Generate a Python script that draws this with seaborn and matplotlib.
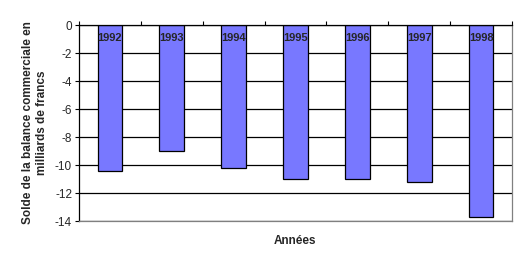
import matplotlib
matplotlib.use("Agg")
import matplotlib.pyplot as plt
import seaborn as sns
import pandas as pd

years = ["1992", "1993", "1994", "1995", "1996", "1997", "1998"]
solde = [-10.4, -9.0, -10.2, -11.0, -11.0, -11.2, -13.7]
yticks = [0, -2, -4, -6, -8, -10, -12, -14]

sns.set_theme(style="white")
plt.rcParams["font.family"] = ["Liberation Sans", "DejaVu Sans"]

df = pd.DataFrame({"Année": years, "Solde": solde})

fig = plt.figure(figsize=(5.27, 2.68), dpi=100)
ax = fig.add_axes([79/527, 1 - 221/268, (512-79)/527, (221-25)/268])

sns.barplot(data=df, x="Année", y="Solde", order=years, color="#7878FF",
            saturation=1, width=0.4, edgecolor="black", linewidth=0.9, ax=ax, zorder=3)

ax.set_ylim(-14, 0)
ax.set_xlim(-0.5, len(years) - 0.5)
ax.set_yticks(yticks)
ax.set_yticklabels([str(v) for v in yticks], fontsize=8.5)
ax.yaxis.grid(True, color="black", linewidth=0.9, zorder=0)
ax.set_axisbelow(True)

ax.xaxis.tick_top()
ax.set_xticks([i - 0.5 for i in range(len(years) + 1)])
ax.set_xticklabels([])
ax.tick_params(axis="x", which="major", direction="out", length=3, width=0.8, color="black", top=True, bottom=False)
ax.tick_params(axis="y", which="major", direction="out", length=3, width=0.8, color="black", left=True, pad=2)

for s in ["left", "top"]:
    ax.spines[s].set_color("black")
    ax.spines[s].set_linewidth(0.9)
for s in ["right", "bottom"]:
    ax.spines[s].set_color("#808080")
    ax.spines[s].set_linewidth(0.9)
ax.spines["top"].set_zorder(5)

for i, y in enumerate(years):
    ax.text(i, -0.95, y, ha="center", va="center", fontsize=8, fontweight="bold", zorder=6)

ax.set_xlabel("")
ax.set_ylabel("Solde de la balance commerciale en\nmilliards de francs", fontsize=8.5,
              fontweight="bold", labelpad=5, linespacing=1.25)
fig.text(295/527, 1 - 241/268, "Années", ha="center", va="center", fontsize=8.5, fontweight="bold")

fig.savefig("out.png", dpi=100)
